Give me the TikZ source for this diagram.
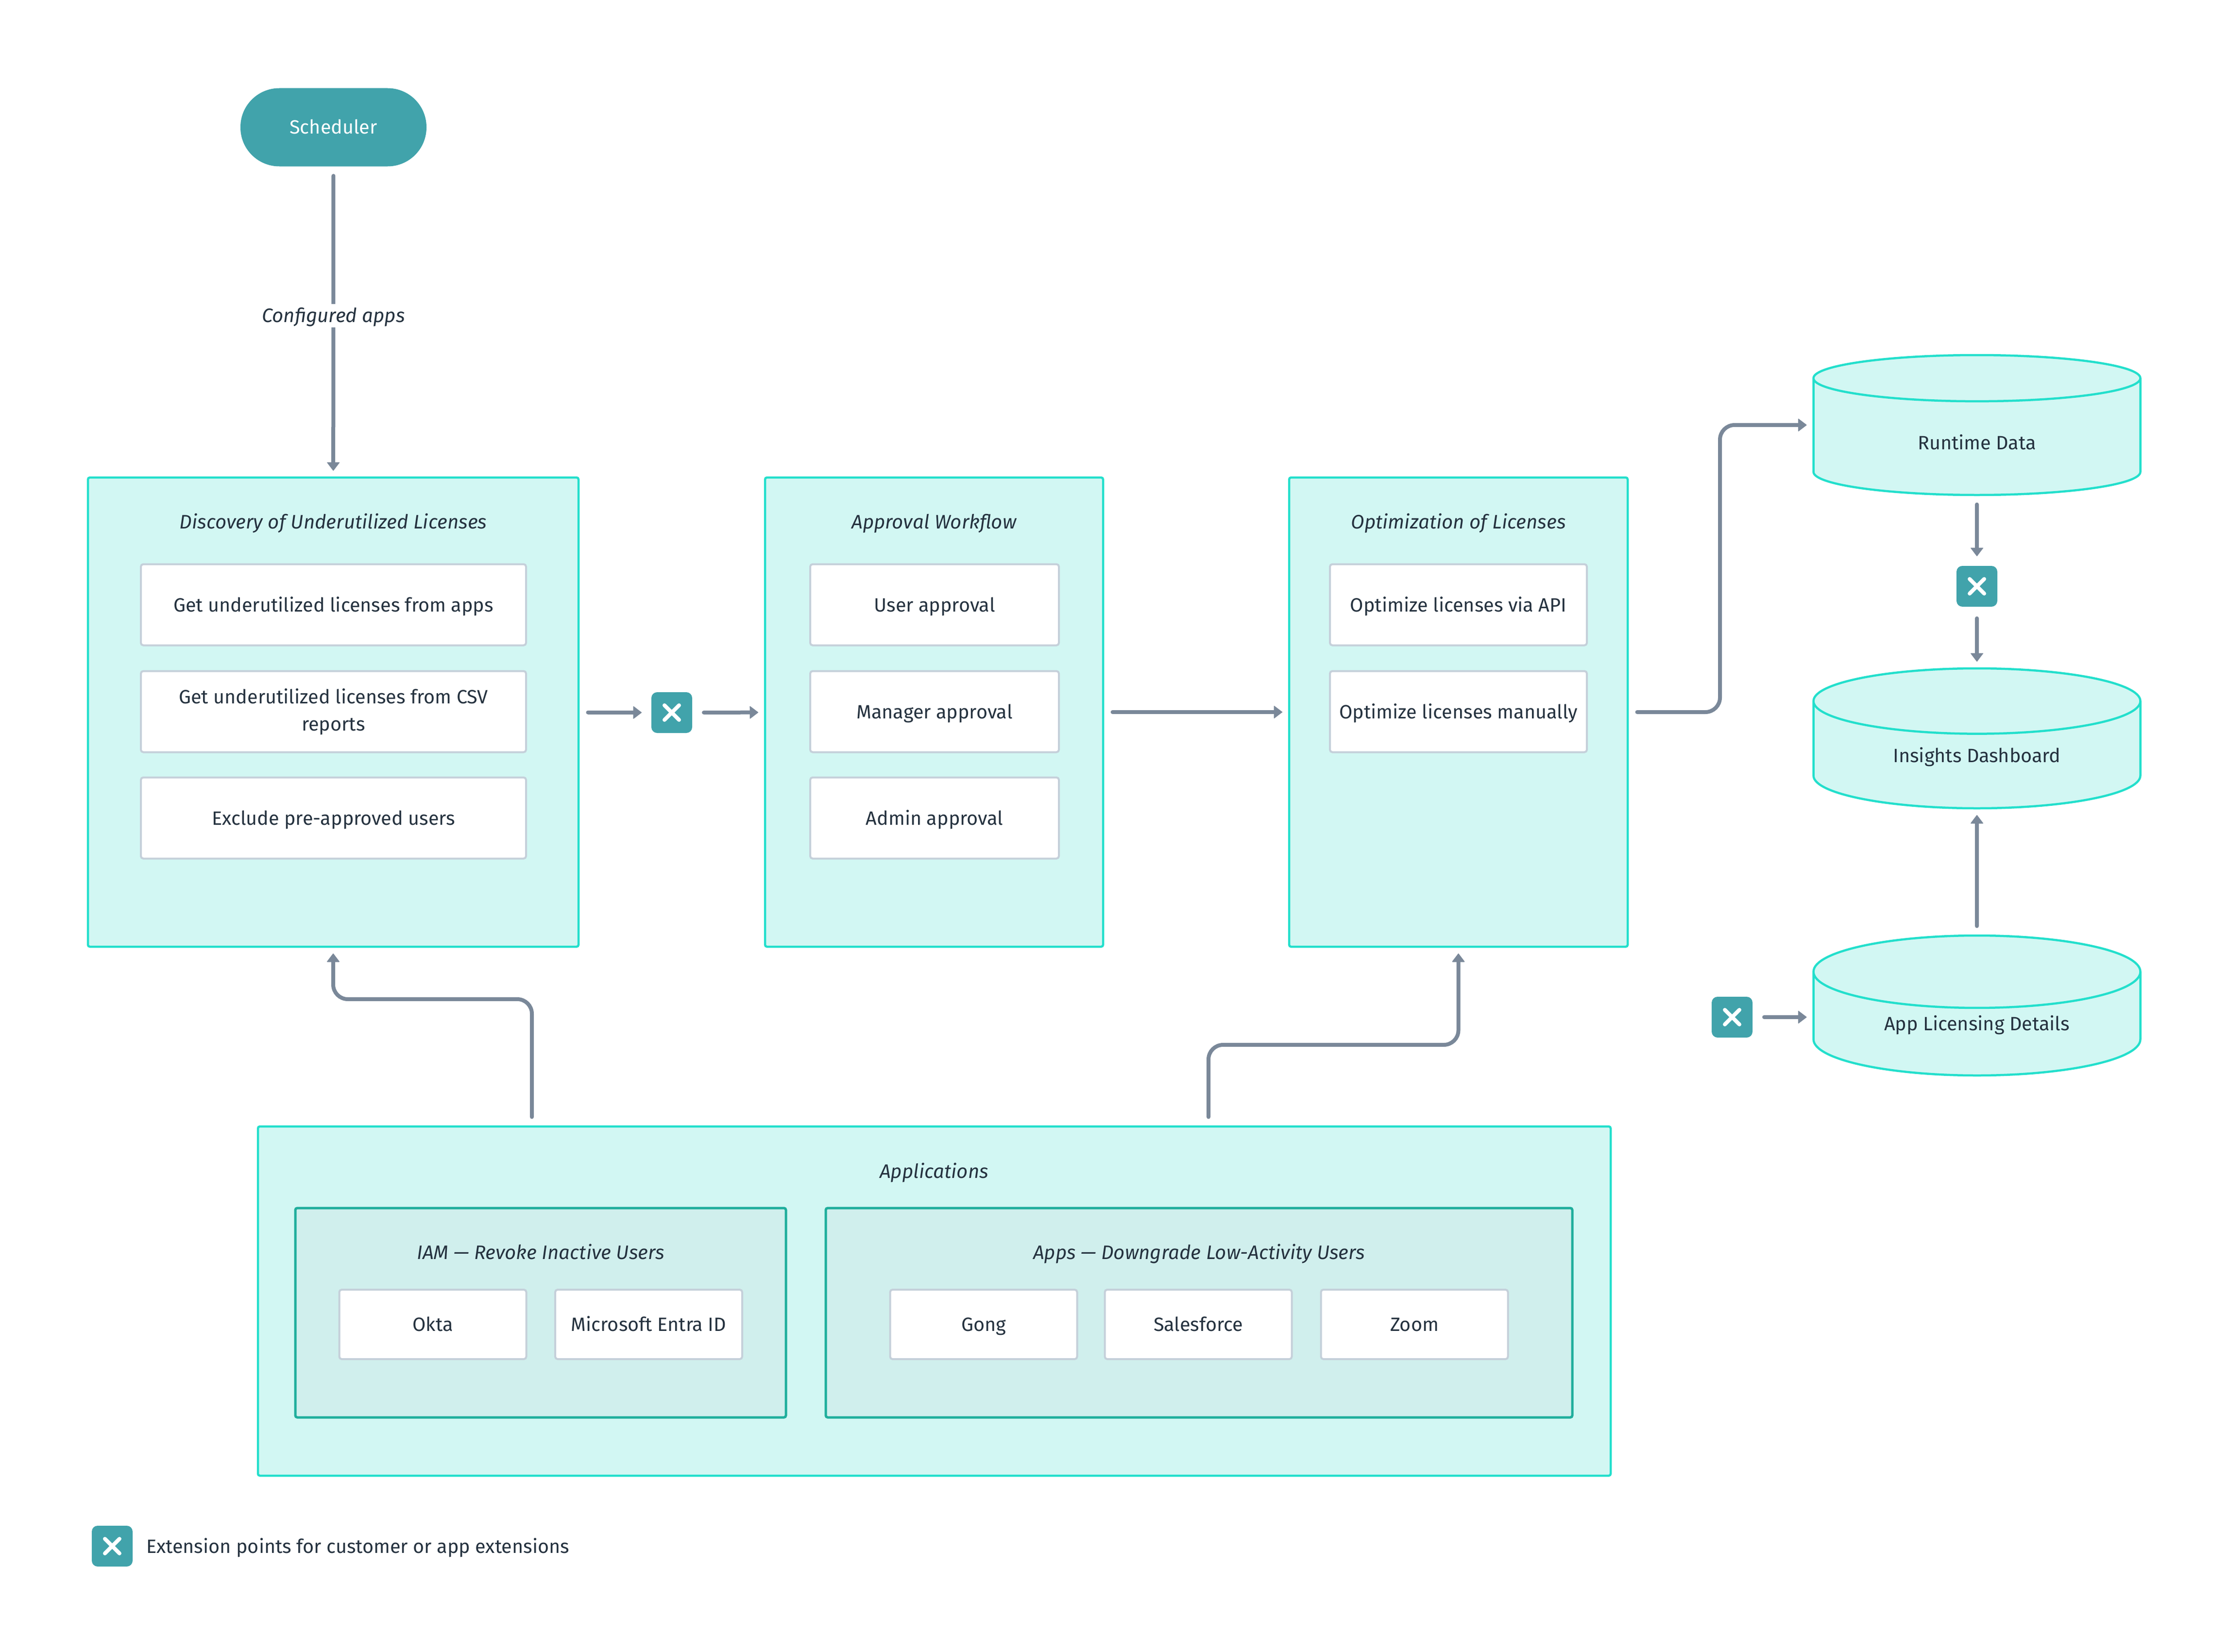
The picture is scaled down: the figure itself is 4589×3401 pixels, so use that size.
\documentclass[tikz,border=0pt]{standalone}
\usepackage{fontspec}
\setmainfont{Fira Sans}
\usetikzlibrary{arrows.meta,shapes.geometric}
\definecolor{tealline}{HTML}{23DFCC}
\definecolor{tealfill}{HTML}{D2F7F3}
\definecolor{darkline}{HTML}{1FAE9C}
\definecolor{darkfill}{HTML}{D0EFED}
\definecolor{extfill}{HTML}{41A3AB}
\definecolor{flowline}{HTML}{7A8899}
\definecolor{cardline}{HTML}{C5D0DA}
\definecolor{inktext}{HTML}{25323F}
\tikzset{
  every node/.append style={font=\fontsize{39.6}{56}\selectfont, text=inktext, outer sep=0pt, inner sep=0pt,
    text height=30pt, text depth=2pt},
  group/.style={rectangle, draw=tealline, fill=tealfill, line width=4.5pt, rounded corners=4pt},
  subgroup/.style={rectangle, draw=darkline, fill=darkfill, line width=5pt, rounded corners=4pt},
  card/.style={rectangle, draw=cardline, fill=white, line width=4pt, rounded corners=5pt, align=center},
  title/.style={font=\fontsize{40.2}{56}\selectfont\itshape},
  store/.style={cylinder, anchor=shape center, shape border rotate=90, aspect=0.39, draw=tealline, fill=tealfill,
    line width=4.5pt, minimum width=673pt, minimum height=288pt},
  ext/.style={rectangle, fill=extfill, rounded corners=12pt, minimum width=84pt, minimum height=84pt,
    path picture={\draw[white, line width=8pt, line cap=round]
      ([shift={(-15pt,-15pt)}]path picture bounding box.center) -- ([shift={(15pt,15pt)}]path picture bounding box.center)
      ([shift={(-15pt,15pt)}]path picture bounding box.center) -- ([shift={(15pt,-15pt)}]path picture bounding box.center);}},
  flow/.style={draw=flowline, line width=8pt, line cap=round, rounded corners=30pt, shorten <=19.5pt, shorten >=14pt,
    -{Triangle[length=18pt,width=27pt,line width=1.5pt,round]}},
  fromext/.style={shorten <=24pt},
  toext/.style={shorten >=20pt}
}
\begin{document}
\begin{tikzpicture}[x=1pt,y=-1pt]
  \useasboundingbox (0,0) rectangle (4589,3401);

  \node[fill=extfill, minimum width=383pt, minimum height=161pt, rounded corners=80pt, text=white] (sched) at (686.5,262) {Scheduler};

  \begin{scope}[every node/.append style={group}]
    \node[minimum width=1010pt, minimum height=966pt] (disc) at (686,1466) {};
    \node[minimum width=696pt, minimum height=966pt] (appr) at (1923,1466) {};
    \node[minimum width=697pt, minimum height=966pt] (opti) at (3002.5,1466) {};
    \node[minimum width=2785pt, minimum height=719pt] (apps) at (1923.5,2678.5) {};
  \end{scope}

  \begin{scope}[every node/.append style={subgroup, minimum height=431pt}]
    \node[minimum width=1010pt] (iam) at (1113,2702.5) {};
    \node[minimum width=1537pt] (down) at (2468.5,2702.5) {};
  \end{scope}

  \begin{scope}[every node/.append style={title}]
    \node (disctitle) at (686,1074) {Discovery of Underutilized Licenses};
    \node (apprtitle) at (1923,1074) {Approval Workflow};
    \node (optititle) at (3002.5,1074) {Optimization of Licenses};
    \node (appstitle) at (1923,2411) {Applications};
    \node (iamtitle) at (1113,2578) {IAM — Revoke Inactive Users};
    \node (downtitle) at (2468.5,2578) {Apps — Downgrade Low-Activity Users};
  \end{scope}

  \begin{scope}[every node/.append style={card, minimum height=167pt}]
    \node[minimum width=793pt] (get1) at (686.5,1245) {Get underutilized licenses from apps};
    \node[minimum width=793pt, text height={}, text depth={}] (get2) at (686.5,1465) {Get underutilized licenses from CSV\\reports};
    \node[minimum width=793pt] (excl) at (686.5,1684) {Exclude pre-approved users};
    \node[minimum width=512pt] (user) at (1924,1245) {User approval};
    \node[minimum width=512pt] (mana) at (1924,1465) {Manager approval};
    \node[minimum width=512pt] (admi) at (1924,1684) {Admin approval};
    \node[minimum width=529pt] (vapi) at (3002.5,1245) {Optimize licenses via API};
    \node[minimum width=529pt] (manu) at (3002.5,1465) {Optimize licenses manually};
  \end{scope}

  \begin{scope}[every node/.append style={card, minimum width=385pt, minimum height=143pt}]
    \node (okta) at (891,2726.5) {Okta};
    \node (entra) at (1335.5,2726.5) {Microsoft Entra ID};
    \node (gong) at (2025,2726.5) {Gong};
    \node (sale) at (2467,2726.5) {Salesforce};
    \node (zoom) at (2912,2726.5) {Zoom};
  \end{scope}

  \begin{scope}[every node/.append style={store}]
    \node[text height=54pt] (runtime) at (4070,875) {Runtime Data};
    \node[text height=32pt] (insight) at (4070,1520) {Insights Dashboard};
    \node[text height=29pt] (licence) at (4070,2070) {App Licensing Details};
  \end{scope}

  \begin{scope}[every node/.append style={ext}]
    \node (ext1) at (1383,1467) {};
    \node (ext2) at (4070,1207) {};
    \node (ext3) at (3566,2094) {};
    \node (ext4) at (231,3183) {};
  \end{scope}

  \node[anchor=west] (legend) at (301,3183) {Extension points for customer or app extensions};

  \path[flow] (sched) -- node[pos=.48, fill=white, inner ysep=8pt, title] (conf) {Configured apps} (disc);
  \path[flow, toext] (disc) -- (ext1);
  \path[flow, fromext] (ext1) -- (appr);
  \path[flow] (appr) -- (opti);
  \path[flow] (opti.east) -- ++(190,0) |- (runtime.shape center -| runtime.west);
  \path[flow, toext] (runtime) -- (ext2);
  \path[flow, fromext] (ext2) -- (insight);
  \path[flow] (licence) -- (insight);
  \path[flow, fromext] (ext3) -- (ext3 -| licence.west);
  \path[flow] (apps.north -| 1095,0) -- (1095,2057) -| (disc.south);
  \path[flow] (apps.north -| 2488,0) -- (2488,2151) -| (opti.south);
\end{tikzpicture}
\end{document}
